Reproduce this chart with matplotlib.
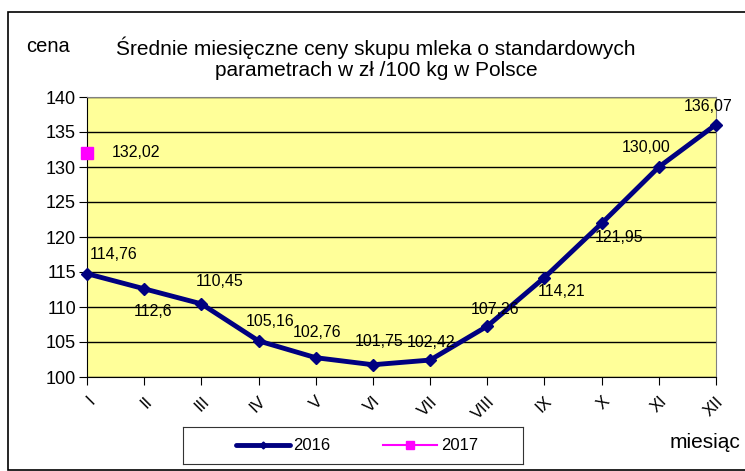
import matplotlib
matplotlib.use("Agg")
import matplotlib.pyplot as plt
from matplotlib.patches import Rectangle

months = ["I", "II", "III", "IV", "V", "VI", "VII", "VIII", "IX", "X", "XI", "XII"]
prices_2016 = [114.76, 112.6, 110.45, 105.16, 102.76, 101.75, 102.42, 107.26, 114.21, 121.95, 130.00, 136.07]
labels_2016 = ["114,76", "112,6", "110,45", "105,16", "102,76", "101,75", "102,42", "107,26", "114,21", "121,95", "130,00", "136,07"]
prices_2017 = [132.02]
labels_2017 = ["132,02"]
yticks = [100, 105, 110, 115, 120, 125, 130, 135, 140]

W, H = 745, 471
plt.rcParams['font.family'] = ['Liberation Sans', 'DejaVu Sans']
fig = plt.figure(figsize=(W / 100, H / 100), dpi=100)

# outer frame
fig.patches.append(Rectangle((8 / W, 1 - 470 / H), (W - 7) / W, (470 - 12) / H,
                             transform=fig.transFigure, fill=False, edgecolor='black', lw=1.2))

left, right, top, bottom = 87, 716, 97, 377
ax = fig.add_axes([left / W, 1 - bottom / H, (right - left) / W, (bottom - top) / H])
ax.set_facecolor('#FFFF99')
x = list(range(len(months)))
ax.plot(x, prices_2016, color='#000080', lw=3.5, marker='D', ms=6.5, zorder=3, clip_on=False)
ax.plot([0], prices_2017, color='#FF00FF', marker='s', ms=9, ls='none', zorder=4, clip_on=False)

ax.set_xlim(0, 11)
ax.set_ylim(100, 140)
ax.set_yticks(yticks)
ax.set_xticks(x)
ax.set_xticklabels(months, rotation=45, ha='right', rotation_mode='anchor', fontsize=12)
ax.tick_params(axis='y', labelsize=13, direction='out', length=6, pad=2)
ax.tick_params(axis='x', direction='out', length=6, pad=6)
ax.yaxis.grid(True, color='black', lw=1)
ax.set_axisbelow(True)
for s in ['top', 'right']:
    ax.spines[s].set_color('#808080')
for s in ['left', 'bottom']:
    ax.spines[s].set_color('black')

# data labels: offsets of label centre from the point, in pixels (x right, y up)
offsets = [(27, 19), (9, -23), (18, 22), (12, 19), (1, 25), (6, 23),
           (1, 18), (8, 17), (17, -14), (17, -14), (-13, 19), (-8, 18)]
for xi, yi, lab, (dx, dy) in zip(x, prices_2016, labels_2016, offsets):
    ax.annotate(lab, (xi, yi), xytext=(dx, dy), textcoords='offset pixels',
                fontsize=11.5, ha='center', va='center', zorder=5, annotation_clip=False)
ax.annotate(labels_2017[0], (0, prices_2017[0]), xytext=(49, 0), textcoords='offset pixels',
            fontsize=11.5, ha='center', va='center', zorder=5, annotation_clip=False)

fig.text(48 / W, 1 - 47 / H, "cena", fontsize=14.5, ha='center', va='center')
fig.text(376 / W, 1 - 58 / H, "Średnie miesięczne ceny skupu mleka o standardowych\nparametrach w zł /100 kg w Polsce",
         fontsize=15, ha='center', va='center', linespacing=1.1)
fig.text(705 / W, 1 - 442 / H, "miesiąc", fontsize=15, ha='center', va='center')

# legend
lx0, lx1, ly0, ly1 = 183, 523, 427, 464
lax = fig.add_axes([lx0 / W, 1 - ly1 / H, (lx1 - lx0) / W, (ly1 - ly0) / H])
lax.set_xlim(lx0, lx1)
lax.set_ylim(ly1, ly0)
lax.set_xticks([])
lax.set_yticks([])
for s in lax.spines.values():
    s.set_color('#333333')
lax.plot([236, 290], [445, 445], color='#000080', lw=3.5, solid_capstyle='round')
lax.plot([263], [445], color='#000080', marker='D', ms=3.5)
lax.text(293, 446, "2016", fontsize=12, va='center', ha='left')
lax.plot([383, 437], [445, 445], color='#FF00FF', lw=1.5)
lax.plot([410], [445], color='#FF00FF', marker='s', ms=6)
lax.text(441, 446, "2017", fontsize=12, va='center', ha='left')

fig.savefig("out.png", dpi=100)
